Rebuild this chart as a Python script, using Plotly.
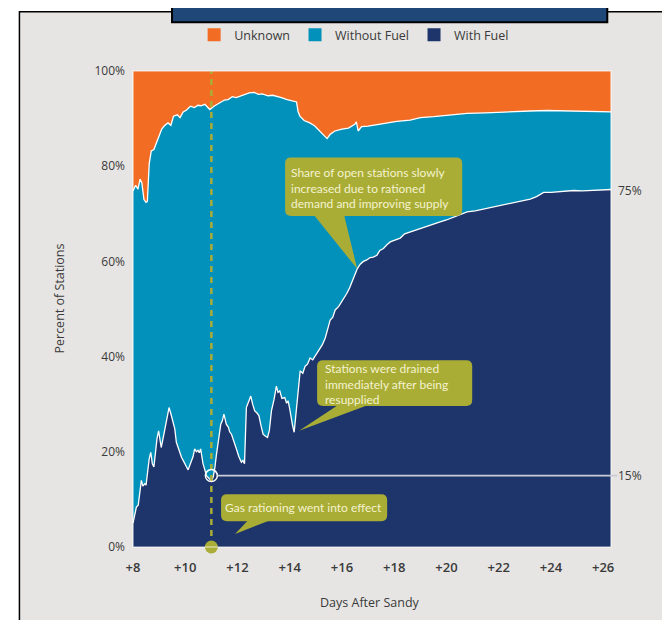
import plotly.graph_objects as go

# ---------------- data ----------------
days_with_fuel = [8.00, 8.06, 8.13, 8.20, 8.26, 8.32, 8.38, 8.45, 8.50, 8.55, 8.62, 8.68, 8.74, 8.80,
                  8.86, 8.92, 8.98, 9.03, 9.08, 9.14, 9.21, 9.27, 9.33, 9.38, 9.45, 9.53, 9.60,
                  9.66, 9.72, 9.80, 9.86, 9.92, 10.00, 10.05, 10.11, 10.17, 10.23, 10.30, 10.36,
                  10.43, 10.49, 10.54, 10.59, 10.64, 10.68, 10.75, 10.81, 10.88, 10.94, 11.00, 11.07,
                  11.13, 11.19, 11.28, 11.36, 11.42, 11.48, 11.53, 11.57, 11.65, 11.70, 11.77, 11.85,
                  11.90, 11.96, 12.05, 12.15, 12.21, 12.27, 12.34, 12.42, 12.51, 12.58, 12.66, 12.74,
                  12.82, 12.90, 12.98, 13.06, 13.15, 13.22, 13.30, 13.40, 13.49, 13.55, 13.62, 13.70,
                  13.81, 13.88, 13.94, 14.00, 14.05, 14.11, 14.17, 14.23, 14.30, 14.35, 14.40, 14.50,
                  14.59, 14.68, 14.78, 14.88, 14.97, 15.06, 15.16, 15.25, 15.36, 15.45, 15.55, 15.65,
                  15.74, 15.87, 16.00, 16.10, 16.19, 16.29, 16.38, 16.48, 16.59, 16.70, 16.82, 16.95,
                  17.08, 17.20, 17.34, 17.45, 17.59, 17.72, 17.85, 18.00, 18.23, 18.40, 18.61, 18.90,
                  19.26, 19.50, 19.76, 20.00, 20.27, 20.50, 20.79, 21.10, 21.42, 21.70, 22.06, 22.30,
                  22.57, 22.90, 23.21, 23.45, 23.72, 24.00, 24.36, 24.60, 24.87, 25.20, 25.51, 25.90,
                  26.30]
pct_with_fuel = [5.0, 6.5, 8.4, 8.8, 11.5, 14.0, 12.8, 13.3, 13.0, 16.0, 18.5, 19.9, 17.5, 16.8,
                 20.5, 22.8, 24.4, 22.0, 20.9, 22.5, 24.4, 26.0, 28.0, 29.3, 28.0, 26.5, 24.8,
                 22.0, 20.9, 19.8, 18.8, 18.2, 17.5, 16.8, 16.2, 17.0, 18.2, 19.0, 20.6,
                 20.0, 20.3, 19.8, 20.6, 19.0, 17.5, 16.2, 15.0, 14.6, 14.3, 13.9, 14.7,
                 16.5, 19.2, 22.5, 25.8, 26.5, 27.9, 26.8, 25.8, 25.2, 24.2, 23.7, 22.5,
                 21.3, 20.6, 19.0, 17.8, 18.2, 17.5, 29.3, 30.5, 31.7, 30.0, 28.6, 28.2,
                 27.6, 25.5, 23.7, 23.3, 23.0, 24.5, 28.6, 31.0, 33.8, 32.5, 32.8, 31.2,
                 31.4, 30.2, 30.7, 29.0, 27.0, 25.5, 24.1, 27.5, 32.8, 35.0, 37.0, 36.5,
                 38.0, 38.4, 39.7, 39.3, 40.1, 40.8, 41.8, 42.5, 43.9, 46.0, 47.7, 48.3,
                 49.8, 50.5, 51.6, 52.5, 53.3, 54.4, 55.7, 57.2, 58.5, 59.4, 60.0, 60.3,
                 60.8, 60.9, 61.3, 62.3, 62.7, 63.5, 64.1, 64.4, 64.9, 65.8, 66.2, 66.7,
                 67.5, 67.9, 68.3, 68.7, 69.3, 69.9, 70.4, 70.6, 71.0, 71.3, 71.8, 72.0,
                 72.4, 72.8, 73.1, 73.6, 74.5, 74.5, 74.7, 74.8, 74.9, 74.8, 74.9, 75.0,
                 75.1]

# share of stations with a known status (with fuel + without fuel)
days_reported = [8.00, 8.10, 8.19, 8.27, 8.34, 8.42, 8.50, 8.55, 8.62, 8.70, 8.80, 8.96, 9.10, 9.20,
                 9.34, 9.45, 9.55, 9.70, 9.80, 9.92, 10.05, 10.20, 10.35, 10.49, 10.60, 10.75,
                 10.94, 11.10, 11.30, 11.50, 11.64, 11.80, 11.95, 12.15, 12.30, 12.45, 12.64, 12.80,
                 12.95, 13.17, 13.35, 13.50, 13.68, 13.90, 14.10, 14.26, 14.32, 14.39, 14.55, 14.77,
                 14.95, 15.15, 15.30, 15.43, 15.55, 15.73, 16.00, 16.25, 16.49, 16.55, 16.62, 16.75,
                 17.00, 17.39, 17.59, 18.10, 18.61, 19.00, 19.51, 20.00, 20.79, 21.50, 22.44, 23.20,
                 23.85, 24.50, 25.38, 26.30]
pct_reported = [74.8, 76.0, 75.2, 77.3, 76.5, 73.0, 72.4, 72.6, 80.5, 83.2, 83.5, 86.0, 87.8, 88.5,
                89.1, 88.6, 90.5, 90.8, 90.2, 91.4, 91.8, 92.6, 92.3, 92.8, 92.7, 93.0,
                91.9, 92.6, 93.3, 93.9, 94.0, 94.6, 94.4, 94.8, 95.0, 95.4, 95.5, 95.1,
                95.2, 94.8, 94.9, 94.6, 94.4, 94.0, 93.7, 93.5, 91.5, 90.5, 89.6, 89.1,
                88.5, 87.4, 86.6, 85.8, 86.7, 87.4, 87.8, 88.0, 88.8, 89.3, 87.4, 88.3,
                88.4, 88.8, 89.0, 89.4, 89.7, 90.2, 90.4, 90.7, 91.1, 91.2, 91.5, 91.6,
                91.7, 91.6, 91.5, 91.4]

series_names = ["Unknown", "Without Fuel", "With Fuel"]
x_tick_vals = [8, 10, 12, 14, 16, 18, 20, 22, 24, 26]
x_tick_text = ["+8", "+10", "+12", "+14", "+16", "+18", "+20", "+22", "+24", "+26"]
y_tick_vals = [0, 20, 40, 60, 80, 100]
y_tick_text = ["0%", "20%", "40%", "60%", "80%", "100%"]
rationing_day = 11.0
rationing_level = 15
final_level = 75

callout_open = "Share of open stations slowly<br>increased due to rationed<br>demand and improving supply"
callout_drained = "Stations were drained<br>immediately after being<br>resupplied"
callout_rationing = "Gas rationing went into effect"

# ---------------- styling / layout geometry ----------------
ORANGE = "#f26c23"
CYAN = "#0291bb"
NAVY = "#1d356b"
OLIVE = "#a9ad36"
BG = "#e6e5e3"
TXT = "#3a3a3a"
CALLTXT = "#f4f2cf"

W, H = 670, 620
OFF = 8  # page body margin
# plot area in screenshot pixels
SL, SR, ST, SB = 133, 610.7, 68, 547
PL, PR, PT, PB = SL - OFF, SR - OFF, ST - OFF, SB - OFF
XMIN, XMAX = 8, 26.3


def px(X):
    return (X - SL) / (SR - SL)


def py(Y):
    return (SB - Y) / (SB - ST)


fig = go.Figure()

# unknown = remainder up to 100%
fig.add_trace(go.Scatter(x=[days_reported[0], days_reported[-1]], y=[100, 100], mode="lines",
                         fill="tozeroy", fillcolor=ORANGE, line=dict(width=0, color=ORANGE),
                         showlegend=False, hoverinfo="skip"))
fig.add_trace(go.Scatter(x=days_reported, y=pct_reported, mode="lines", fill="tozeroy",
                         fillcolor=CYAN, line=dict(width=1.3, color="white"),
                         showlegend=False, hoverinfo="skip"))
fig.add_trace(go.Scatter(x=days_with_fuel, y=pct_with_fuel, mode="lines", fill="tozeroy",
                         fillcolor=NAVY, line=dict(width=1.3, color="white"),
                         showlegend=False, hoverinfo="skip"))

# legend entries
for name, col in zip(series_names, [ORANGE, CYAN, NAVY]):
    fig.add_trace(go.Scatter(x=[None], y=[None], mode="markers", name=name,
                             marker=dict(symbol="square", size=13, color=col)))

# rationing dashed line
fig.add_trace(go.Scatter(x=[rationing_day, rationing_day], y=[0, 100], mode="lines",
                         line=dict(color=OLIVE, width=2.5, dash="6px,5px"),
                         showlegend=False, hoverinfo="skip"))
fig.add_trace(go.Scatter(x=[rationing_day], y=[0], mode="markers", cliponaxis=False,
                         marker=dict(size=13, color=OLIVE), showlegend=False, hoverinfo="skip"))
fig.add_trace(go.Scatter(x=[rationing_day], y=[rationing_level], mode="markers", cliponaxis=False,
                         marker=dict(size=12, symbol="circle-open", color="white",
                                     line=dict(width=1.5, color="white")),
                         showlegend=False, hoverinfo="skip"))

shapes = []
# page background and frame
shapes.append(dict(type="rect", xref="paper", yref="paper", layer="below",
                   x0=px(19.5), x1=px(700), y0=py(8.5), y1=py(650),
                   fillcolor=BG, line=dict(color="black", width=1.5)))
shapes.append(dict(type="rect", xref="paper", yref="paper", layer="below",
                   x0=px(172), x1=px(607), y0=py(19), y1=py(-10),
                   fillcolor="#1f4777", line=dict(color="black", width=2)))
# plot border
shapes.append(dict(type="rect", xref="paper", yref="paper", layer="above",
                   x0=0, x1=1, y0=0, y1=1, line=dict(color="rgba(255,255,255,0.75)", width=1.2)))
# 15% reference line
shapes.append(dict(type="line", xref="paper", yref="y",
                   x0=(rationing_day - XMIN) / (XMAX - XMIN) + 0.013, x1=px(617),
                   y0=rationing_level, y1=rationing_level,
                   line=dict(color="#c9cbd6", width=1.6)))


def callout(x0, x1, y0, y1, base_a, base_b, tip, r=6):
    """rounded box with a triangular pointer from the bottom edge (screenshot pixel coords)"""
    X0, X1, Y0, Y1 = px(x0), px(x1), py(y0), py(y1)
    rx = r / (SR - SL)
    ry = r / (SB - ST)
    box = (f"M {X0+rx},{Y0} L {X1-rx},{Y0} Q {X1},{Y0} {X1},{Y0-ry} "
           f"L {X1},{Y1+ry} Q {X1},{Y1} {X1-rx},{Y1} L {X0+rx},{Y1} Q {X0},{Y1} {X0},{Y1+ry} "
           f"L {X0},{Y0-ry} Q {X0},{Y0} {X0+rx},{Y0} Z")
    tri = f"M {px(base_a)},{py(y1)+0.002} L {px(tip[0])},{py(tip[1])} L {px(base_b)},{py(y1)+0.002} Z"
    return [dict(type="path", xref="paper", yref="paper", path=box, fillcolor=OLIVE,
                 line=dict(width=0)),
            dict(type="path", xref="paper", yref="paper", path=tri, fillcolor=OLIVE,
                 line=dict(width=0))]


shapes += callout(285, 462, 155, 214, 314, 344, (357, 267))
shapes += callout(317, 472, 359, 405, 338, 368, (299, 430))
shapes += callout(221, 387, 494, 521, 248, 270, (235, 534))

annotations = []
cfont = dict(family="Lato, Open Sans, sans-serif", size=12, color=CALLTXT)
annotations.append(dict(xref="paper", yref="paper", x=px(289), y=py(186), xanchor="left",
                        yanchor="middle", align="left", showarrow=False, text=callout_open, font=cfont))
annotations.append(dict(xref="paper", yref="paper", x=px(323), y=py(382.5), xanchor="left",
                        yanchor="middle", align="left", showarrow=False, text=callout_drained, font=cfont))
annotations.append(dict(xref="paper", yref="paper", x=px(223), y=py(507.5), xanchor="left",
                        yanchor="middle", align="left", showarrow=False, text=callout_rationing, font=cfont))
# right side labels
for lvl in [final_level, rationing_level]:
    annotations.append(dict(xref="paper", yref="y", x=1, y=lvl, xanchor="left", yanchor="middle",
                            xshift=5, showarrow=False, text=f"{lvl}%",
                            font=dict(family="Open Sans", size=12, color=TXT)))
# axis titles
annotations.append(dict(xref="paper", yref="paper", x=px(60), y=py(297), xanchor="center",
                        yanchor="middle", textangle=-90, showarrow=False, text="Percent of Stations",
                        font=dict(family="Open Sans", size=12.5, color=TXT)))
annotations.append(dict(xref="paper", yref="paper", x=px(370), y=py(603), xanchor="center",
                        yanchor="middle", showarrow=False, text="Days After Sandy",
                        font=dict(family="Open Sans", size=12.5, color=TXT)))

fig.update_layout(
    width=W, height=H,
    margin=dict(l=PL, r=W - PR, t=PT, b=H - PB, pad=0),
    paper_bgcolor="white", plot_bgcolor=BG,
    shapes=shapes, annotations=annotations,
    showlegend=True,
    legend=dict(orientation="h", x=px(354), xanchor="center", y=py(32), yanchor="middle",
                bgcolor="rgba(0,0,0,0)", font=dict(family="Open Sans", size=12.5, color=TXT),
                itemclick=False, traceorder="normal", tracegroupgap=0),
    xaxis=dict(range=[XMIN, XMAX], tickvals=x_tick_vals, ticktext=x_tick_text, showgrid=False,
               zeroline=False, showline=False, ticks="", ticklabelstandoff=11,
               tickfont=dict(family="Open Sans", size=13, color=TXT, weight=600)),
    yaxis=dict(range=[0, 100], tickvals=y_tick_vals, ticktext=y_tick_text, showgrid=False,
               zeroline=False, showline=False, ticks="", ticklabelstandoff=7,
               tickfont=dict(family="Open Sans", size=12, color=TXT)),
)

fig.write_html("out.html")
